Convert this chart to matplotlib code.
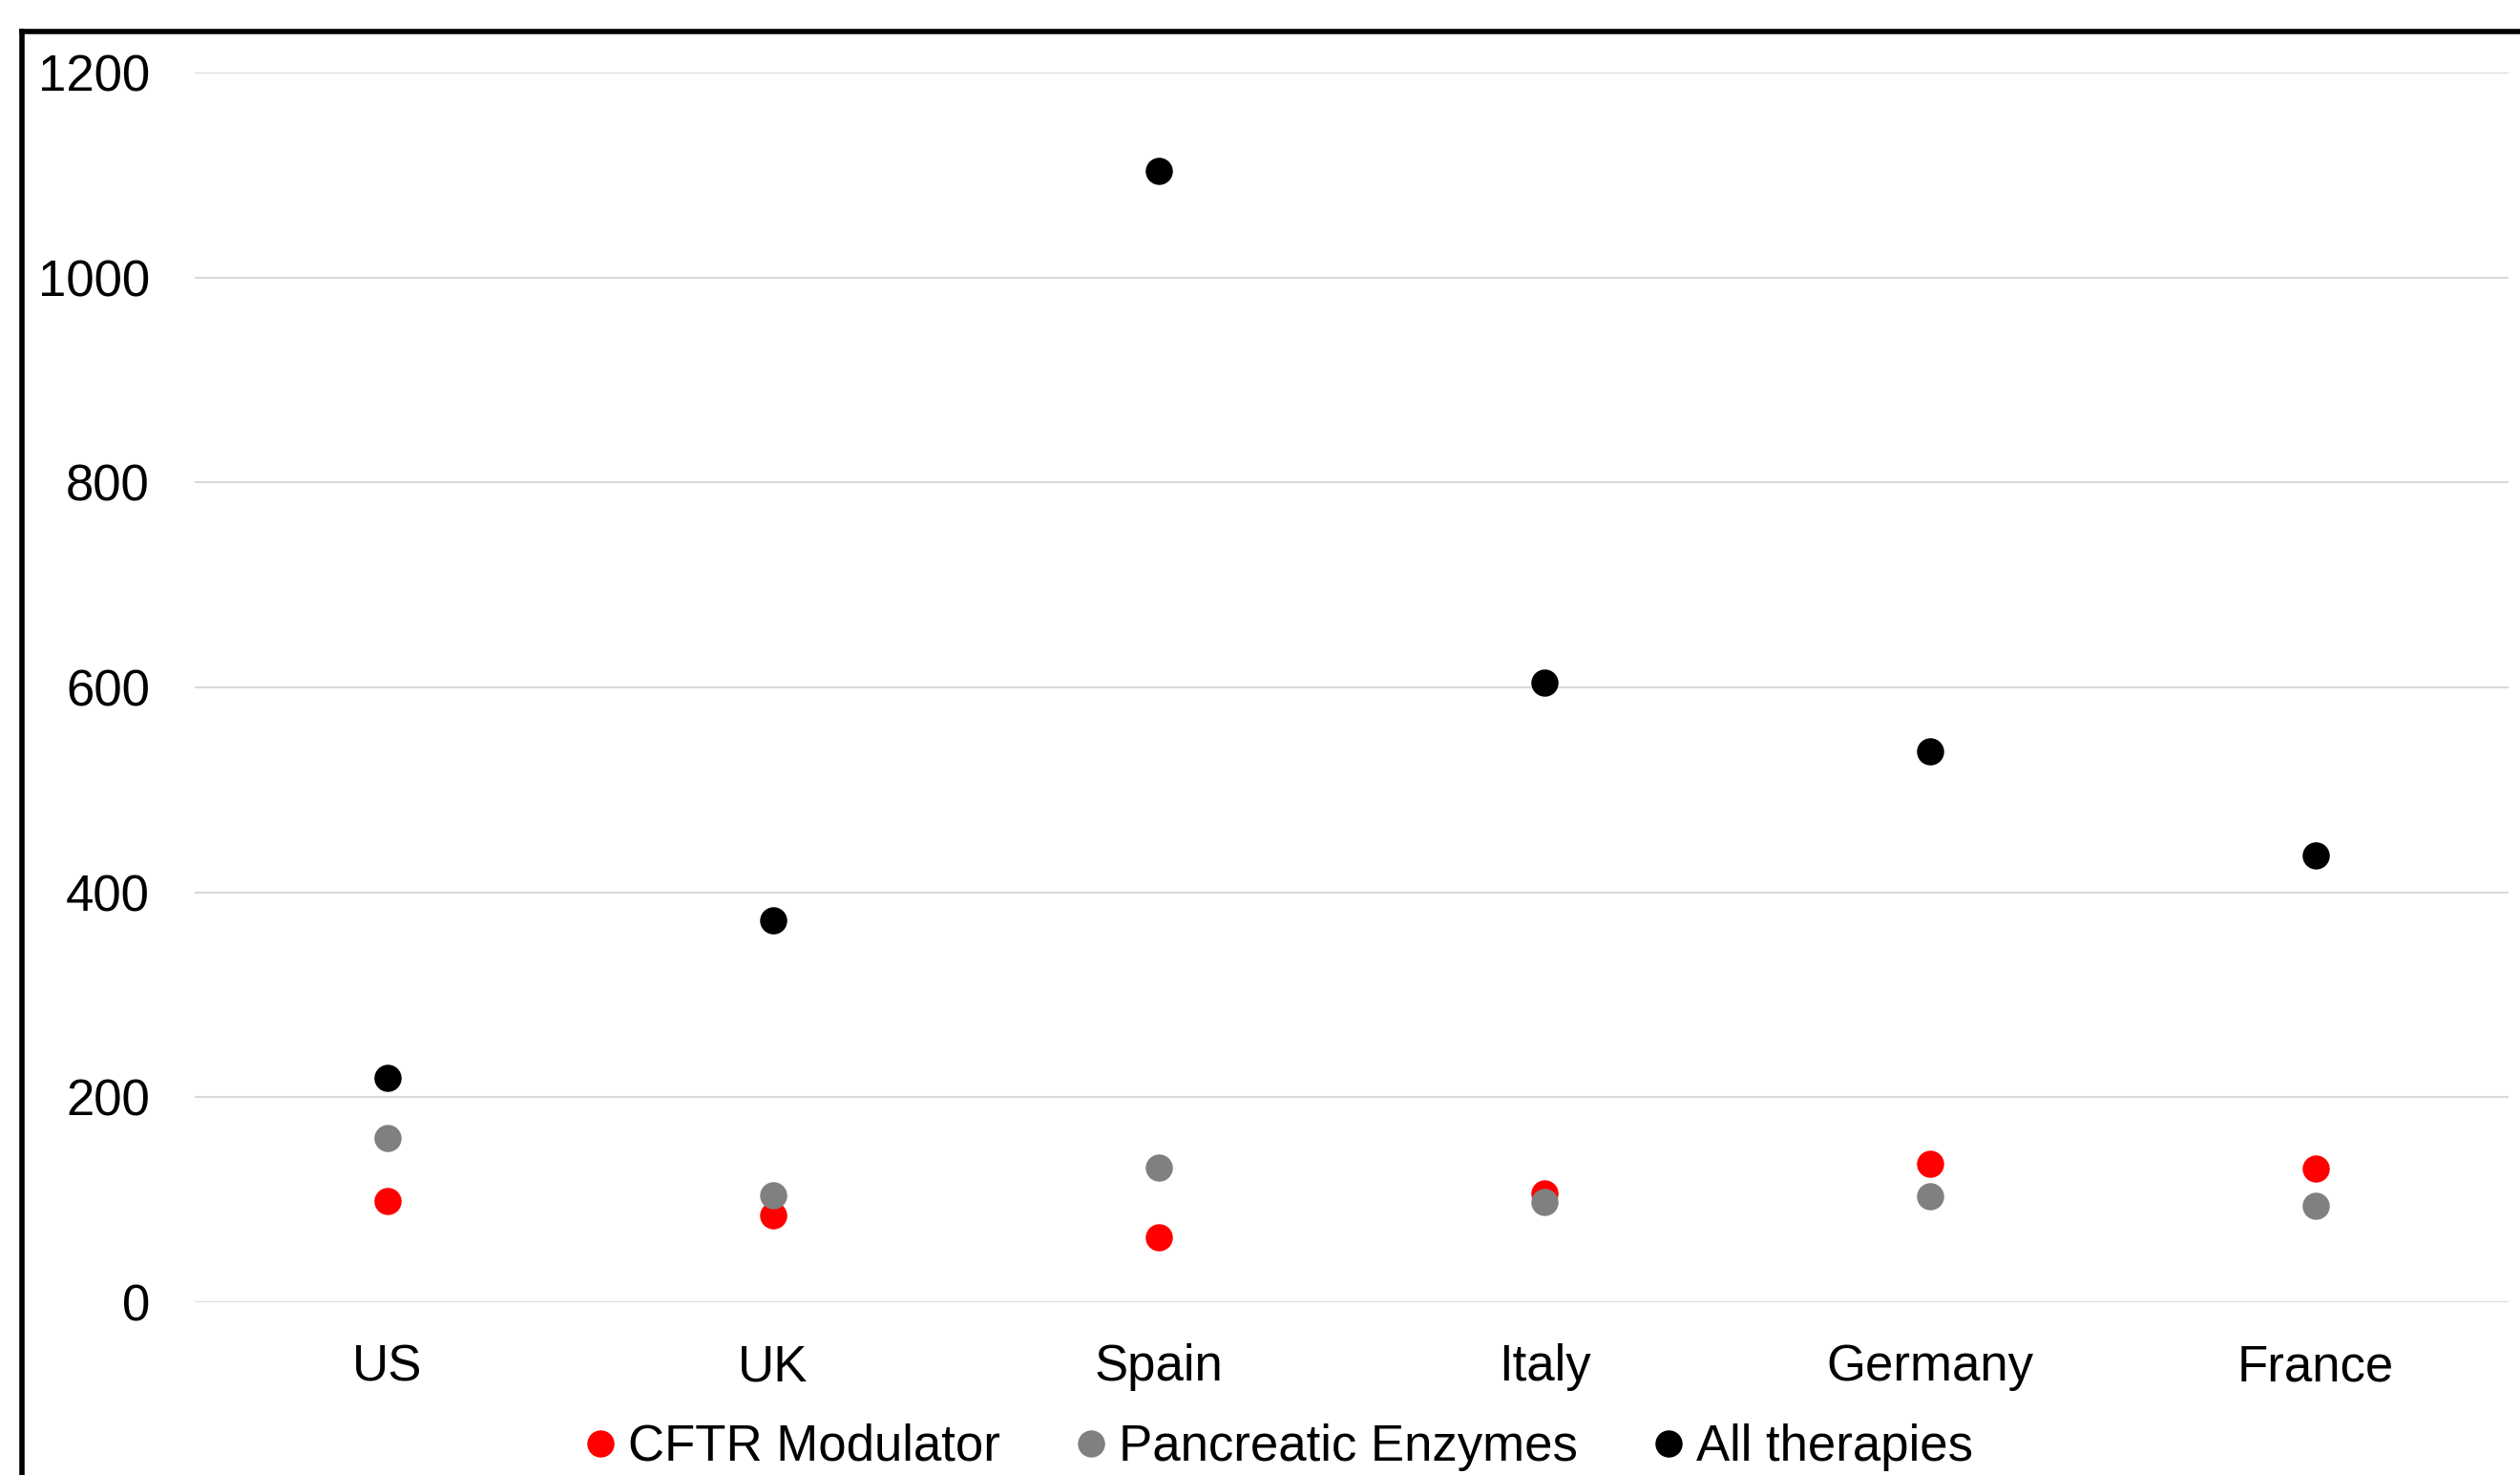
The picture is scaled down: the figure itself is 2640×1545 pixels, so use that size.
import numpy as np
import matplotlib
matplotlib.use('Agg')
import matplotlib.pyplot as plt
from matplotlib.lines import Line2D

plt.rcParams['font.family'] = ['Liberation Sans', 'DejaVu Sans']

# data
countries = ['US', 'UK', 'Spain', 'Italy', 'Germany', 'France']
cftr_modulator = [99, 85, 63, 106, 135, 130]
pancreatic_enzymes = [160, 104, 131, 98, 103, 94]
all_therapies = [219, 373, 1104, 605, 538, 436]
y_ticks = [0, 200, 400, 600, 800, 1000, 1200]

W, H, DPI = 2640, 1545, 100
fig = plt.figure(figsize=(W / DPI, H / DPI), dpi=DPI)
fig.patch.set_facecolor('white')
ax = fig.add_axes([204 / W, 181 / H, (2628 - 204) / W, (1364 - 76) / H])

x = np.arange(len(countries))
msize = 20.5
ax.plot(x, cftr_modulator, 'o', color='#ff0000', ms=msize, mew=0, label='CFTR Modulator', zorder=3)
ax.plot(x, pancreatic_enzymes, 'o', color='#808080', ms=msize, mew=0, label='Pancreatic Enzymes', zorder=4)
ax.plot(x, all_therapies, 'o', color='#000000', ms=msize, mew=0, label='All therapies', zorder=5)

ax.set_xlim(-0.5, len(countries) - 0.5)
ax.set_ylim(0, 1200)
ax.set_yticks(y_ticks)
ax.set_yticklabels([str(v) for v in y_ticks], fontsize=38)
ax.set_xticks(x)
ax.set_xticklabels(countries, fontsize=38)
ax.tick_params(axis='y', length=0, pad=34)
ax.tick_params(axis='x', length=0, pad=31)
ax.grid(axis='y', color='#d9d9d9', lw=1.5, zorder=0)
ax.set_axisbelow(True)
for s in ax.spines.values():
    s.set_visible(False)

fig.legend(loc='center', bbox_to_anchor=(1341 / W, 29 / H), ncol=3, frameon=False,
           fontsize=38, handlelength=0.53, handletextpad=0.27, columnspacing=1.55,
           borderpad=0, borderaxespad=0)

# outer frame, only left and top edges fall inside the picture
fig.add_artist(Line2D([22.5 / W, 22.5 / W], [-0.05, (H - 33) / H], color='black', lw=4, transform=fig.transFigure))
fig.add_artist(Line2D([22.5 / W, 1.05], [(H - 33) / H, (H - 33) / H], color='black', lw=4, transform=fig.transFigure))

fig.savefig('out.png', dpi=DPI)
